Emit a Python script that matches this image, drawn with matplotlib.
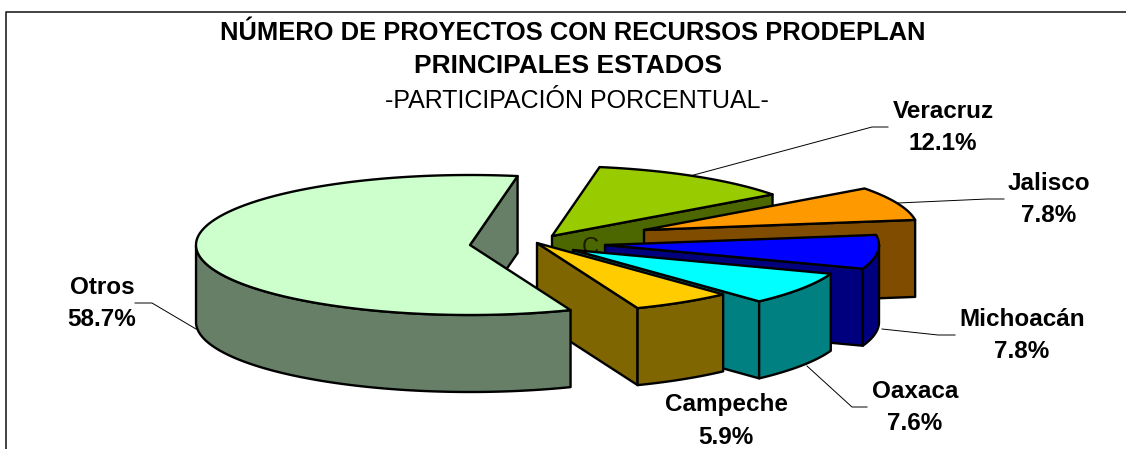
import numpy as np
import matplotlib
matplotlib.use("Agg")
import matplotlib.pyplot as plt

states = ["Veracruz", "Jalisco", "Michoacán", "Oaxaca", "Campeche", "Otros"]
shares = [12.1, 7.8, 7.8, 7.6, 5.9, 58.7]
top_colors = ["#99CC00", "#FF9900", "#0000FF", "#00FFFF", "#FFCC00", "#CCFFCC"]
side_colors = ["#4C6600", "#7F4C00", "#00007F", "#008080", "#806600", "#667F66"]

# layout of the exploded pie, in pixels of the picture
apex_x = [552, 644, 605, 573, 537, 470]
apex_y = [236, 230, 245, 250, 243, 245]
label_x = [943, 1049, 1022, 915, 726, 102]
label_y = [128, 200, 336, 408, 421, 304]
RX = 274
RY = 70
DEPTH = 77
START = 80.0

plt.rcParams["font.family"] = ["Liberation Sans", "DejaVu Sans"]

fig = plt.figure(figsize=(11.26, 4.49), dpi=100)
ax = fig.add_axes([0, 0, 1, 1])
ax.set_xlim(0, 1126)
ax.set_ylim(449, 0)
ax.axis("off")

# frame of the chart, only top and left show
ax.plot([6, 6, 1126], [449, 11.5, 11.5], color="#222222", lw=1.2, zorder=1)


def rim(cx, cy, t):
    t = np.radians(t)
    return cx + RX * np.cos(t), cy - RY * np.sin(t)


def draw_slice(cx, cy, t1, t2, top, side, z):
    # t1 > t2, slices go clockwise
    line = dict(edgecolor="black", lw=1.7, joinstyle="round", zorder=z)
    xb, yb = rim(cx, cy, t2)
    # only the cut wall at the clockwise end faces the viewer
    ax.fill([cx, xb, xb, cx], [cy, yb, yb + DEPTH, cy + DEPTH], facecolor=side, **line)
    # outer wall, front half of the rim only
    ts = np.linspace(t1, t2, 200)
    front = ts[np.sin(np.radians(ts)) <= 0.0]
    if len(front) > 1:
        xs, ys = rim(cx, cy, front)
        ax.fill(np.r_[xs, xs[::-1]], np.r_[ys, ys[::-1] + DEPTH], facecolor=side, **line)
    # top face
    xs, ys = rim(cx, cy, ts)
    ax.fill(np.r_[cx, xs], np.r_[cy, ys], facecolor=top, **line)


sweeps = np.array(shares) / sum(shares) * 360
ends = START - np.cumsum(sweeps)
starts = np.r_[START, ends[:-1]]
# draw in list order, Otros last since its front corner lies over Campeche
for z, i in enumerate(range(len(states))):
    if states[i] == "Oaxaca":
        ax.text(590, 248, "C", fontsize=17, color="#1a1a00", ha="center", va="center", zorder=10 + z - 1)
    draw_slice(apex_x[i], apex_y[i], starts[i], ends[i], top_colors[i], side_colors[i], 10 + z)

# leader lines
ax.plot([690, 872, 888], [176, 127, 127], color="black", lw=0.7, zorder=3)
ax.plot([898, 987, 1004], [203, 199, 199], color="black", lw=0.7, zorder=3)
ax.plot([882, 938, 955], [329, 335, 335], color="black", lw=0.7, zorder=3)
ax.plot([807, 852, 867], [366, 407, 407], color="black", lw=0.7, zorder=3)
ax.plot([196, 152, 135], [329, 303, 303], color="black", lw=0.7, zorder=3)

for name, val, x, y in zip(states, shares, label_x, label_y):
    ax.text(x, y, f"{name}\n{val}%", fontsize=17.5, fontweight="bold", ha="center", va="center",
            linespacing=1.5, zorder=30)

ax.text(573, 33, "NÚMERO DE PROYECTOS CON RECURSOS PRODEPLAN", fontsize=18.4, fontweight="bold",
        ha="center", va="center", zorder=30)
ax.text(568, 66, "PRINCIPALES ESTADOS", fontsize=19, fontweight="bold", ha="center", va="center", zorder=30)
ax.text(577, 101, "-PARTICIPACIÓN PORCENTUAL-", fontsize=18, ha="center", va="center", zorder=30)

fig.savefig("out.png", dpi=100)
